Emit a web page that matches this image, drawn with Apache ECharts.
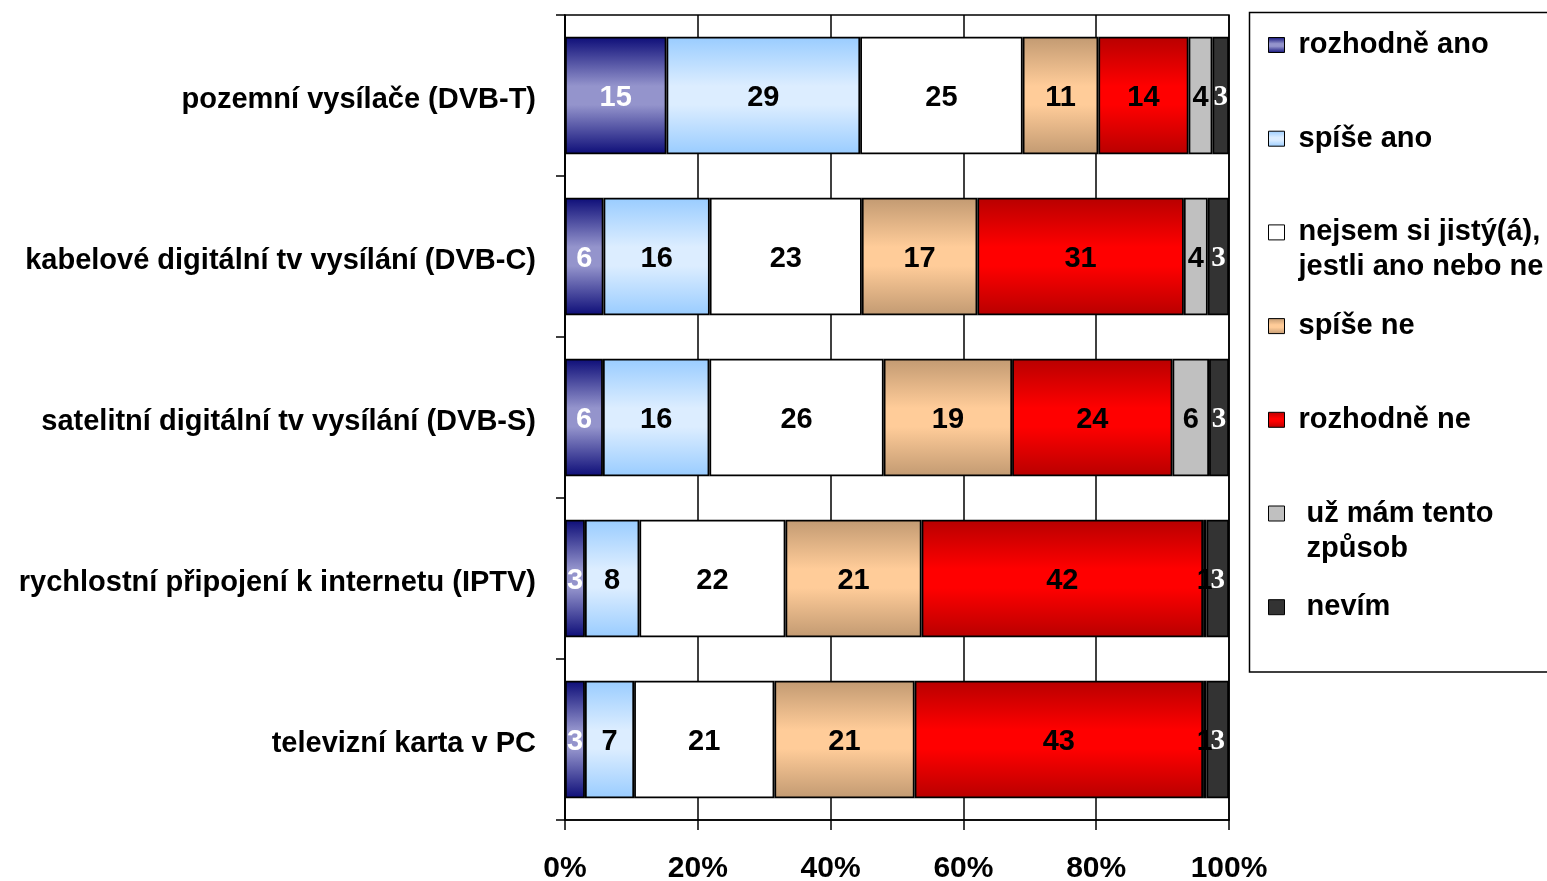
<!DOCTYPE html>
<html>
<head>
<meta charset="utf-8">
<script src="https://cdn.jsdelivr.net/npm/echarts@6/dist/echarts.min.js"></script>
<style>
html,body{margin:0;padding:0;background:#fff;}
#chart{width:1547px;height:881px;}
</style>
</head>
<body>
<div id="chart"></div>
<script>
// ---- data ----
const categories = [
  'pozemní vysílače (DVB-T)',
  'kabelové digitální tv vysílání (DVB-C)',
  'satelitní digitální tv vysílání (DVB-S)',
  'rychlostní připojení k internetu (IPTV)',
  'televizní karta v PC'
];
const seriesNames = [
  'rozhodně ano',
  'spíše ano',
  'nejsem si jistý(á), jestli ano nebo ne',
  'spíše ne',
  'rozhodně ne',
  'už mám tento způsob',
  'nevím'
];
const legendLabels = [
  ['rozhodně ano'],
  ['spíše ano'],
  ['nejsem si jistý(á),', 'jestli ano nebo ne'],
  ['spíše ne'],
  ['rozhodně ne'],
  [' už mám tento', ' způsob'],
  [' nevím']
];
const rozhodneAno = [15.3, 5.8, 5.7, 3.0, 3.0];
const spiseAno    = [29.2, 16.0, 16.0, 8.2, 7.4];
const nejsem      = [24.5, 22.9, 26.2, 22.0, 21.1];
const spiseNe     = [11.4, 17.4, 19.3, 20.5, 21.1];
const rozhodneNe  = [13.6, 31.1, 24.1, 42.4, 43.4];
const uzMam       = [3.6, 3.6, 5.5, 0.5, 0.5];
const nevim       = [2.5, 3.2, 3.0, 3.4, 3.4];
const tickLabels  = ['0%', '20%', '40%', '60%', '80%', '100%'];

const allValues = [rozhodneAno, spiseAno, nejsem, spiseNe, rozhodneNe, uzMam, nevim];

// ---- styles ----
function vgrad(edge, mid) {
  return new echarts.graphic.LinearGradient(0, 0, 0, 1, [
    {offset: 0, color: edge},
    {offset: 0.42, color: mid},
    {offset: 0.58, color: mid},
    {offset: 1, color: edge}
  ]);
}
const fills = [
  vgrad('#0d0d78', '#9494cc'),
  vgrad('#99ccff', '#dcedff'),
  '#ffffff',
  vgrad('#c29a72', '#ffcc99'),
  vgrad('#b80000', '#ff0000'),
  '#c0c0c0',
  '#333333'
];
const labelColors = ['#ffffff', '#000', '#000', '#000', '#000', '#000', '#ffffff'];
const FONT = '"Liberation Sans", Arial, sans-serif';

const rowSums = categories.map((c, i) => allValues.reduce((s, arr) => s + arr[i], 0));

const series = seriesNames.map((name, si) => ({
  name: name,
  type: 'bar',
  stack: 'total',
  barCategoryGap: '27%',
  data: allValues[si].map((v, i) => v / rowSums[i] * 100),
  itemStyle: {color: fills[si], borderColor: '#000', borderWidth: 1.8},
  label: {
    show: true,
    position: 'inside',
    offset: [0, 2],
    color: labelColors[si],
    fontFamily: si === 6 ? '"Liberation Serif", "Times New Roman", serif' : FONT,
    fontWeight: 'bold',
    fontSize: 29,
    formatter: p => String(Math.round(allValues[si][p.dataIndex]))
  },
  emphasis: {disabled: true}
}));

const chart = echarts.init(document.getElementById('chart'));
chart.setOption({
  animation: false,
  backgroundColor: '#fff',
  textStyle: {fontFamily: FONT},
  grid: {
    left: 565, right: 318, top: 15, bottom: 61,
    outerBoundsMode: 'none',
    containLabel: false,
    show: true, borderColor: '#000', borderWidth: 1.5, backgroundColor: 'transparent'
  },
  xAxis: {
    type: 'value',
    min: 0, max: 100, interval: 20,
    axisLine: {show: true, lineStyle: {color: '#000', width: 1.5}},
    axisTick: {show: true, length: 10, lineStyle: {color: '#000', width: 1.5}},
    splitLine: {show: true, lineStyle: {color: '#000', width: 1.5}},
    axisLabel: {
      margin: 34,
      color: '#000',
      fontWeight: 'bold',
      fontSize: 30,
      fontFamily: FONT,
      formatter: v => tickLabels[Math.round(v / 20)]
    }
  },
  yAxis: {
    type: 'category',
    inverse: true,
    data: categories,
    axisLine: {show: true, lineStyle: {color: '#000', width: 1.5}},
    axisTick: {show: true, length: 9, lineStyle: {color: '#000', width: 1.5}},
    axisLabel: {
      margin: 29,
      formatter: v => '{c|' + v + '}',
      rich: {
        c: {
          color: '#000',
          fontWeight: 'bold',
          fontSize: 29,
          fontFamily: FONT,
          padding: [8, 0, 0, 0]
        }
      }
    }
  },
  legend: {
    orient: 'vertical',
    left: 1268,
    top: -7.5,
    padding: 0,
    itemGap: -11.3,
    itemWidth: 16,
    itemHeight: 15,
    icon: 'rect',
    selectedMode: false,
    data: seriesNames,
    itemStyle: {borderColor: '#000', borderWidth: 1},
    textStyle: {
      color: '#000',
      fontWeight: 'bold',
      fontSize: 29,
      lineHeight: 35,
      fontFamily: FONT,
      padding: [0, 0, 0, 9]
    },
    formatter: name => {
      const lines = legendLabels[seriesNames.indexOf(name)];
      return '\n' + lines[0] + '\n' + (lines[1] || '');
    }
  },
  graphic: [{
    type: 'rect',
    silent: true,
    shape: {x: 1249.5, y: 12.5, width: 400, height: 659.5},
    style: {fill: 'none', stroke: '#000', lineWidth: 1.5}
  }],
  series: series
});
</script>
</body>
</html>
